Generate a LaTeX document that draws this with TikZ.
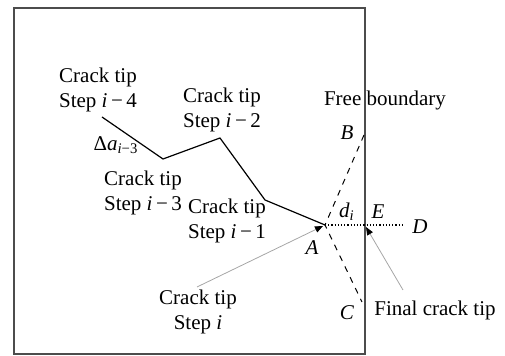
\documentclass[tikz,border=0pt]{standalone}
\usepackage{fontspec}
\setmainfont{Liberation Serif}
\usetikzlibrary{arrows.meta,calc}
\tikzset{
  tipnote/.style={align=center,font=\fontsize{10.5}{12.5}\selectfont,inner sep=0pt},
  ptlabel/.style={font=\fontsize{10.5}{12.5}\selectfont\itshape,inner sep=0pt},
  leader/.style={draw=black!35,line width=0.4pt,-{Triangle[black,length=4pt,width=3.2pt]}},
}

\begin{document}
\begin{tikzpicture}[x=0.5pt,y=-0.5pt]
\useasboundingbox (0,0) rectangle (505,356);
% specimen edge
\draw[black!70,line width=0.8pt] (14,8) rectangle (365,354);

% crack path
\coordinate (s4) at (102,117);
\coordinate (s3) at (163,159);
\coordinate (s2) at (220,138);
\coordinate (s1) at (265,200);
\coordinate (A) at (325,225);
\coordinate (B) at (364,135);
\coordinate (C) at (362,302);
\coordinate (E) at (365,225);
\coordinate (D) at (403,225);
\draw[line width=0.6pt] (s4) -- (s3) -- (s2) -- (s1) -- (A);
\draw[dashed,line width=0.5pt] (B) -- (A) -- (C);
\draw[densely dotted,line width=0.6pt] (A) -- (D);

% labels
\node[tipnote] (tip4) at (98,90) {Crack tip\\Step \textit{i}\,−\,4};
\node[tipnote] (tip2) at (222,110) {Crack tip\\Step \textit{i}\,−\,2};
\node[tipnote] (tip3) at (143,193) {Crack tip\\Step \textit{i}\,−\,3};
\node[tipnote] (tip1) at (227,221) {Crack tip\\Step \textit{i}\,−\,1};
\node[tipnote] (tipi) at (198,312) {Crack tip\\Step \textit{i}};
\node[tipnote] (da) at (116,145) {Δ\textit{a}\textsubscript{\textit{i}−3}};
\node[tipnote] (free) at (385,100) {Free boundary};
\node[tipnote] (final) at (435,310) {Final crack tip};
\node[ptlabel] (lB) at (347,133) {B};
\node[ptlabel] (lA) at (312,248) {A};
\node[ptlabel] (lC) at (347,313) {C};
\node[ptlabel] (lE) at (378,212) {E};
\node[ptlabel] (lD) at (420,227) {D};
\node[tipnote] (ld) at (347,212) {\textit{d}\textsubscript{\textit{i}}};

% leaders
\coordinate (ti0) at (197,287);
\coordinate (fi0) at (403,290);
\draw[leader] (ti0) -- ($(A)+(-2,1)$);
\draw[leader] (fi0) -- ($(E)+(1,2)$);
\end{tikzpicture}
\end{document}
